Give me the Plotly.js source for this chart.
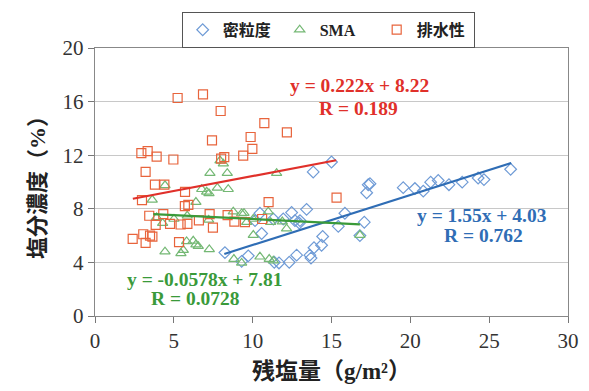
<!DOCTYPE html>
<html><head><meta charset="utf-8">
<script src="https://cdn.plot.ly/plotly-3.0.1.min.js"></script>
<style>html,body{margin:0;padding:0;background:#fff;}#chart{width:589px;height:391px;}</style>
</head><body><div id="chart"></div>
<script>
// 密粒度 (dense-graded)
const denseX = [8.24,9.3,15.0,13.84,17.33,17.23,12.47,13.42,15.85,10.46,11.31,12.68,12.96,10.15,15.43,17.08,10.57,14.44,14.37,13.89,13.63,13.7,9.72,11.67,12.32,12.79,11.37,13.0,11.94,16.8,17.44,19.55,20.29,20.82,21.29,21.77,22.45,23.29,24.3,24.67,26.36];
const denseY = [4.73,4.08,11.49,10.75,9.8,9.2,7.72,7.96,7.67,7.67,7.24,7.12,6.93,7.12,6.69,7.0,6.16,5.93,5.28,5.09,4.54,4.32,4.49,3.96,4.01,4.54,4.01,7.12,7.24,6.0,9.87,9.58,9.51,9.32,9.99,10.11,9.8,9.99,10.3,10.18,10.95];
// SMA
const smaX = [7.29,8.39,7.93,8.14,4.44,3.63,6.4,6.77,7.08,7.23,7.76,8.45,3.91,4.29,5.01,5.85,7.21,8.77,9.3,9.62,4.44,5.45,5.6,5.81,6.23,6.4,6.55,7.25,8.81,11.52,9.45,10.04,10.99,11.14,11.88,12.15,10.04,16.8,9.3,10.46,11.05,11.31];
const smaY = [10.66,10.66,11.6,11.37,9.75,8.67,8.5,9.46,9.27,9.15,9.56,9.46,7.36,6.93,7.24,7.48,7.17,7.79,7.65,7.0,4.8,4.68,4.92,5.57,5.61,5.33,5.21,4.97,4.25,10.66,7.67,7.24,7.79,7.0,7.05,6.52,6.04,6.04,3.96,4.42,4.25,4.13];
// 排水性 (porous)
const porousX = [5.24,6.85,7.97,7.42,2.94,3.34,3.91,4.97,8.0,8.2,9.4,3.21,3.8,4.4,10.74,12.17,9.87,9.98,11.01,15.32,10.6,9.51,2.98,5.71,5.7,5.92,3.44,4.33,3.85,4.76,5.43,5.86,6.59,7.27,7.48,8.41,8.84,2.39,3.06,3.49,3.64,3.21,5.33];
const porousY = [16.27,16.54,15.3,13.1,12.16,12.3,11.9,11.68,11.75,11.85,11.97,10.75,9.8,9.8,14.4,13.7,13.36,12.47,8.5,8.84,7.24,7.0,8.65,9.27,8.2,8.3,7.48,7.6,6.8,6.88,6.83,6.88,7.14,7.6,6.6,7.53,7.05,5.76,6.1,6.0,5.93,5.45,5.52];
// trend line endpoints as drawn
const denseLineX = [8.2, 26.4], denseLineY = [4.63, 11.42];
const smaLineX = [3.7, 16.8], smaLineY = [7.60, 6.84];
const porousLineX = [2.4, 15.3], porousLineY = [8.75, 11.62];
const seriesNames = ['密粒度','SMA','排水性'];
const eqTexts = ['y = 1.55x + 4.03','R = 0.762','y = -0.0578x + 7.81','R = 0.0728','y = 0.222x + 8.22','R = 0.189'];
const xTicks = [0,5,10,15,20,25,30];
const yTicks = [0,4,8,12,16,20];

const cBlue='#2f6db5', cBlueM='#6f9bd6', cGreen='#3a9a3a', cGreenM='#74b874', cRed='#e0302a', cRedM='#e8643c';
const serif = 'Liberation Serif, Times New Roman, serif';
const cjk = 'Liberation Serif, Noto Sans CJK JP, serif';

const traces = [
 {x:denseX,y:denseY,mode:'markers',type:'scatter',name:seriesNames[0],marker:{symbol:'diamond-open',size:9,color:cBlueM,line:{width:1.2}}},
 {x:smaX,y:smaY,mode:'markers',type:'scatter',name:seriesNames[1],marker:{symbol:'triangle-up-open',size:9,color:cGreenM,line:{width:1.2}}},
 {x:porousX,y:porousY,mode:'markers',type:'scatter',name:seriesNames[2],marker:{symbol:'square-open',size:9,color:cRedM,line:{width:1.2}}},
 {x:denseLineX,y:denseLineY,mode:'lines',type:'scatter',showlegend:false,line:{color:cBlue,width:2.2},hoverinfo:'skip'},
 {x:smaLineX,y:smaLineY,mode:'lines',type:'scatter',showlegend:false,line:{color:cGreen,width:2.2},hoverinfo:'skip'},
 {x:porousLineX,y:porousLineY,mode:'lines',type:'scatter',showlegend:false,line:{color:cRed,width:2.2},hoverinfo:'skip'}
];
function ann(x,y,t,c){return {x:x,y:y,xref:'x',yref:'y',text:'<b>'+t+'</b>',showarrow:false,font:{family:serif,size:19.5,color:c}};}
const layout = {
 width:589,height:391,
 margin:{l:95,r:21,t:37,b:75},
 paper_bgcolor:'#fff',plot_bgcolor:'#fff',
 showlegend:true,
 legend:{orientation:'h',x:0.493,xanchor:'center',y:1.135,yanchor:'top',bgcolor:'#fff',bordercolor:'#555',borderwidth:1,
   font:{family:cjk,size:16,color:'#222',weight:'bold'},entrywidth:52,itemwidth:30},
 xaxis:{range:[0,30],tickvals:xTicks,ticks:'outside',ticklen:6,tickcolor:'#777',showgrid:false,zeroline:false,
   showline:true,linecolor:'#888',linewidth:1.2,mirror:true,tickfont:{family:serif,size:21,color:'#333'},
   title:{text:'<b>残塩量（g/m²）</b>',font:{family:cjk,size:23,color:'#222'},standoff:10}},
 yaxis:{range:[0,20],tickvals:yTicks,ticks:'outside',ticklen:6,tickcolor:'#777',showgrid:true,gridcolor:'#c8c8c8',gridwidth:1.2,zeroline:false,
   showline:true,linecolor:'#888',linewidth:1.2,mirror:true,tickfont:{family:serif,size:21,color:'#333'},
   title:{text:'<b>塩分濃度（%）</b>',font:{family:cjk,size:22,color:'#222'},standoff:10}},
 annotations:[
   ann(24.55,7.5,eqTexts[0],cBlue), ann(24.65,6.0,eqTexts[1],cBlue),
   ann(6.95,2.72,eqTexts[2],cGreen), ann(6.4,1.3,eqTexts[3],cGreen),
   ann(16.75,17.2,eqTexts[4],cRed), ann(16.7,15.45,eqTexts[5],cRed)
 ]
};
Plotly.newPlot('chart',traces,layout,{displayModeBar:false,staticPlot:true});
</script></body></html>
